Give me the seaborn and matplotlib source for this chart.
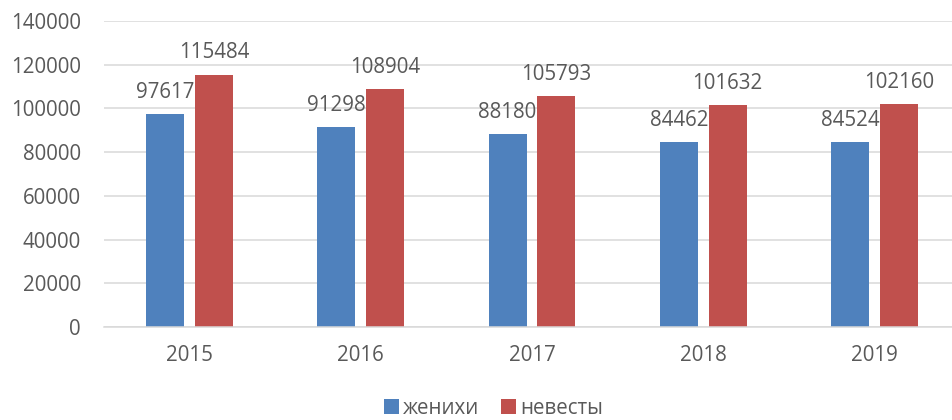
import matplotlib
matplotlib.use("Agg")
import matplotlib.pyplot as plt
import seaborn as sns
import pandas as pd

years = ["2015", "2016", "2017", "2018", "2019"]
grooms = [97617, 91298, 88180, 84462, 84524]
brides = [115484, 108904, 105793, 101632, 102160]
series_names = ["женихи", "невесты"]
yticks = [0, 20000, 40000, 60000, 80000, 100000, 120000, 140000]

df = pd.DataFrame({
    "year": years * 2,
    "value": grooms + brides,
    "series": [series_names[0]] * len(years) + [series_names[1]] * len(years),
})

sns.set_theme(style="white")
plt.rcParams["font.family"] = ["Open Sans", "DejaVu Sans"]
text_color = "#595959"
fs = 14.8

fig = plt.figure(figsize=(9.52, 4.2), dpi=100)
ax = fig.add_axes([104 / 952, 93 / 420, 856 / 952, 306 / 420])

sns.barplot(data=df, x="year", y="value", hue="series", order=years,
            hue_order=series_names, palette=["#4F81BD", "#C0504D"],
            saturation=1, width=0.57, gap=0.225, ax=ax, legend=True,
            edgecolor="none")

ax.set_ylim(0, 140000)
ax.set_xlim(-0.5, len(years) - 0.5)
ax.set_yticks(yticks)
ax.set_yticklabels([str(v) for v in yticks])
ax.grid(axis="y", color="#D9D9D9", linewidth=1.1)
ax.set_axisbelow(True)
for s in ["left", "right", "top"]:
    ax.spines[s].set_visible(False)
ax.spines["bottom"].set_color("#D9D9D9")
ax.spines["bottom"].set_linewidth(1.1)
ax.tick_params(axis="y", length=0, pad=16.5, labelsize=fs, labelcolor=text_color)
ax.tick_params(axis="x", length=0, pad=13, labelsize=fs, labelcolor=text_color)
ax.set_xlabel("")
ax.set_ylabel("")

for cont in ax.containers:
    ax.bar_label(cont, labels=[str(int(v)) for v in cont.datavalues],
                 padding=8, fontsize=fs, color=text_color)

handles, labels = ax.get_legend_handles_labels()
ax.get_legend().remove()
fig.legend(handles, labels, loc="center", bbox_to_anchor=(493.5 / 952, 12 / 420),
           ncol=2, frameon=False, fontsize=fs, labelcolor=text_color,
           handlelength=0.7, handleheight=0.7, handletextpad=0.2,
           columnspacing=1.1, borderpad=0.1)

fig.savefig("out.png", dpi=100)
